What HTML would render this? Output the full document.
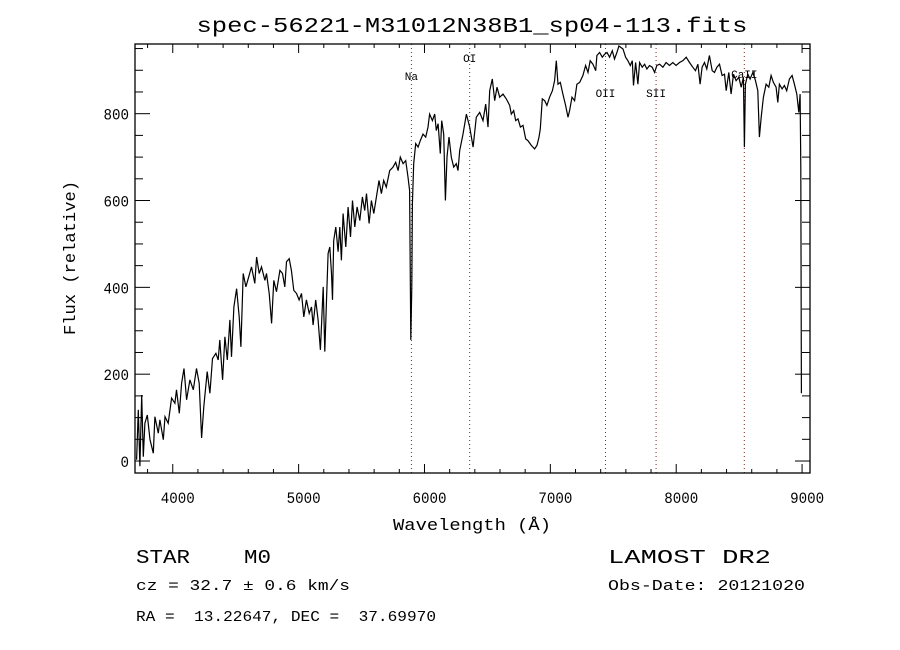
<!DOCTYPE html>
<html><head><meta charset="utf-8"><style>
html,body{margin:0;padding:0;background:#fff;}
svg{display:block;}
text{font-family:"Liberation Mono","DejaVu Sans Mono",monospace;fill:#000;}
</style></head><body>
<svg id="chart" width="900" height="650" viewBox="0 0 900 650">
<text x="472" y="32" font-size="21" text-anchor="middle" textLength="551" lengthAdjust="spacingAndGlyphs">spec-56221-M31012N38B1_sp04-113.fits</text>
<g id="grid"></g>
<text x="472" y="530" font-size="17" text-anchor="middle" textLength="158" lengthAdjust="spacingAndGlyphs">Wavelength (Å)</text>
<text transform="translate(75,258) rotate(-90)" font-size="17" text-anchor="middle" textLength="154" lengthAdjust="spacingAndGlyphs">Flux (relative)</text>
<text x="136" y="563" font-size="19" textLength="135" lengthAdjust="spacingAndGlyphs" xml:space="preserve">STAR    M0</text>
<text x="136" y="590" font-size="15" textLength="214" lengthAdjust="spacingAndGlyphs">cz = 32.7 ± 0.6 km/s</text>
<text x="136" y="621" font-size="15" textLength="300" lengthAdjust="spacingAndGlyphs" xml:space="preserve">RA =  13.22647, DEC =  37.69970</text>
<text x="608" y="563" font-size="19" textLength="163" lengthAdjust="spacingAndGlyphs">LAMOST DR2</text>
<text x="608" y="590" font-size="15" textLength="197" lengthAdjust="spacingAndGlyphs">Obs-Date: 20121020</text>
</svg>
<script>
const wavelengths=[3713,3726,3739,3753,3766,3779,3798,3819,3845,3858,3885,3898,3925,3938,3964,3991,4017,4030,4052,4070,4089,4110,4136,4163,4189,4210,4229,4247,4274,4295,4316,4343,4361,4374,4396,4414,4433,4454,4467,4486,4507,4528,4541,4560,4581,4599,4626,4652,4666,4687,4705,4732,4745,4766,4785,4803,4824,4851,4872,4890,4904,4925,4943,4962,4983,5004,5023,5041,5062,5084,5102,5115,5136,5155,5173,5195,5208,5221,5234,5248,5261,5269,5279,5295,5314,5327,5340,5353,5375,5393,5412,5428,5446,5465,5486,5507,5525,5539,5560,5578,5597,5618,5639,5658,5676,5697,5724,5750,5771,5790,5808,5830,5851,5869,5882,5891,5899,5904,5914,5930,5949,5967,5988,6010,6028,6041,6063,6081,6094,6108,6126,6137,6153,6166,6179,6195,6213,6232,6253,6266,6280,6306,6333,6359,6386,6412,6439,6465,6486,6505,6518,6539,6558,6576,6598,6624,6650,6677,6690,6709,6725,6743,6762,6783,6804,6822,6849,6875,6894,6910,6920,6936,6955,6973,6994,7016,7034,7047,7061,7079,7100,7121,7140,7153,7172,7193,7211,7233,7259,7280,7299,7317,7338,7360,7370,7391,7413,7431,7450,7471,7492,7510,7529,7545,7577,7598,7616,7635,7651,7661,7677,7696,7709,7730,7749,7767,7788,7809,7828,7846,7868,7894,7920,7947,7973,7999,8026,8053,8079,8106,8132,8153,8172,8190,8206,8225,8243,8264,8286,8304,8323,8344,8365,8384,8397,8418,8436,8455,8476,8497,8516,8534,8542,8550,8569,8587,8609,8630,8648,8661,8675,8693,8714,8736,8754,8772,8794,8807,8820,8841,8860,8878,8899,8921,8939,8958,8974,8984,8990,8995];
const fluxes=[3,118,-12,152,10,87,106,49,18,102,64,95,49,102,87,145,133,164,110,179,213,141,187,164,213,179,53,125,206,156,236,248,233,279,187,286,233,325,240,355,397,332,263,432,401,420,447,409,470,432,447,416,432,386,317,416,390,439,432,401,459,466,439,393,386,371,386,332,371,340,355,313,371,325,256,401,252,363,478,493,432,371,508,539,482,539,462,570,493,585,516,600,539,585,554,608,577,616,547,600,570,608,646,616,646,631,669,677,688,669,700,685,692,654,623,279,401,593,685,731,723,738,753,746,769,799,784,799,761,777,708,784,753,600,700,746,700,677,685,669,715,753,799,769,723,792,803,784,822,769,853,880,830,861,838,845,834,819,799,807,784,788,769,773,742,738,727,719,727,746,765,834,830,819,838,853,876,922,868,872,845,819,792,807,838,830,868,872,888,911,895,922,914,899,934,941,930,937,941,930,945,926,941,956,949,930,922,911,922,865,918,868,918,907,914,903,911,907,895,911,914,907,918,911,918,911,918,922,930,918,907,899,914,868,907,918,903,934,899,895,907,914,888,891,853,895,845,891,876,884,861,884,723,868,891,880,895,876,853,746,792,838,868,861,888,872,861,826,868,857,865,853,880,888,868,845,803,845,677,156];
const xTickValues=[4000,5000,6000,7000,8000,9000];
const xTickLabels=["4000","5000","6000","7000","8000","9000"];
const yTickValues=[0,200,400,600,800];
const yTickLabels=["0","200","400","600","800"];
const lineNames=["Na","OI","OII","SII","CaII"];
const lineWavelengths=[5896,6359,7438,7840,8541];
const lineLabelY=[80,62,97,97,78];

const L=135,R=810,T=44,B=473;
const X0=3700,X1=9063,Y0=-27.6,Y1=960.5;
const sx=v=>L+(v-X0)/(X1-X0)*(R-L);
const sy=v=>B-(v-Y0)/(Y1-Y0)*(B-T);
const NS="http://www.w3.org/2000/svg";
const g=document.getElementById('grid');
function mk(tag,attrs){const e=document.createElementNS(NS,tag);for(const k in attrs)e.setAttribute(k,attrs[k]);g.appendChild(e);return e;}

// spectral line markers
lineNames.forEach((n,i)=>{
  const x=sx(lineWavelengths[i]);
  const ln=mk('line',{x1:x,y1:T,x2:x,y2:B,stroke:'#8b2020','stroke-width':1,'stroke-dasharray':'1,3'});
  
  
  const t=mk('text',{x:x,y:lineLabelY[i],'font-size':11,'text-anchor':'middle','font-family':'Liberation Serif, serif'});
  t.textContent=n;
  
  
});

// spectrum
let d='';
wavelengths.forEach((w,i)=>{d+=(i?'L':'M')+sx(w).toFixed(1)+','+sy(fluxes[i]).toFixed(1);});
const p=mk('path',{d:d,fill:'none',stroke:'#000','stroke-width':1.2,'stroke-linejoin':'miter'});



// frame
const fr=mk('rect',{x:L,y:T,width:R-L,height:B-T,fill:'none',stroke:'#000','stroke-width':1.3});



// x ticks
for(let v=3800;v<=X1;v+=200){
  const x=sx(v);const major=v%1000===0;const len=major?9:4;
  mk('line',{x1:x,y1:B,x2:x,y2:B-len,stroke:'#000'});
  mk('line',{x1:x,y1:T,x2:x,y2:T+len,stroke:'#000'});
}
xTickValues.forEach((v,i)=>{
  const t=mk('text',{x:sx(v)+5,y:B+30,'font-size':16,'text-anchor':'middle',textLength:34,lengthAdjust:'spacingAndGlyphs'});
  t.textContent=xTickLabels[i];
  
  
});
// y ticks
for(let v=0;v<=Y1;v+=50){
  const y=sy(v);const major=v%200===0;const len=major?15:8;
  mk('line',{x1:L,y1:y,x2:L+len,y2:y,stroke:'#000'});
  mk('line',{x1:R,y1:y,x2:R-len,y2:y,stroke:'#000'});
}
yTickValues.forEach((v,i)=>{
  const s=yTickLabels[i];
  const t=mk('text',{x:L-6,y:sy(v)+6,'font-size':16,'text-anchor':'end',textLength:s.length*8.5,lengthAdjust:'spacingAndGlyphs'});
  t.textContent=s;
  
  
});
</script>
</body></html>
